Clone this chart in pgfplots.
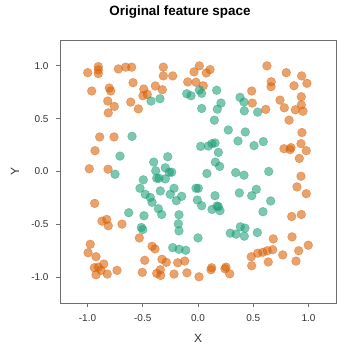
\documentclass[border=0pt]{standalone}
\usepackage{pgfplots}
\pgfplotsset{compat=1.18}
\usepackage{fontspec}
\setmainfont{Liberation Sans}
\definecolor{dorange}{HTML}{D95F02}
\definecolor{dgreen}{HTML}{1B9E77}
\definecolor{axgray}{RGB}{110,110,110}
\begin{document}
\begin{tikzpicture}[x=1bp,y=1bp]
\path[use as bounding box] (0,0) rectangle (360,360);
\begin{axis}[
  at={(60bp,57bp)}, anchor=south west,
  scale only axis, width=276bp, height=263bp,
  xmin=-1.249, xmax=1.249, ymin=-1.245, ymax=1.245,
  xtick={-1,-0.5,0,0.5,1}, ytick={-1,-0.5,0,0.5,1},
  xtick pos=bottom, ytick pos=left,
  tick align=outside, major tick length=4bp,
  axis line style={axgray, line width=0.8pt},
  every tick/.style={axgray, line width=0.8pt},
  tick label style={font=\fontsize{10}{11}\selectfont, text=black!80},
  xticklabel style={yshift=-4bp},
  yticklabel style={xshift=-4bp},
  /pgf/number format/assume math mode=true,
  /pgf/number format/fixed, /pgf/number format/fixed zerofill,
  /pgf/number format/precision=1,
  clip=false,
]
\addplot[only marks, mark=*, mark size=4.4bp,
  mark options={fill=dorange, draw=dorange, fill opacity=0.58, draw opacity=0.4, line width=0.6pt}]
coordinates {
(-0.998,0.936) (-0.902,0.993) (-0.902,0.962) (-0.902,0.927) (-0.721,0.971)
(-0.654,0.988) (-0.600,0.988) (-0.314,0.988) (-0.314,0.905) (-0.229,0.905)
(-0.962,0.762) (-0.803,0.790) (-0.790,0.762) (-0.588,0.841) (-0.491,0.781)
(-0.498,0.717) (-0.459,0.730) (-0.386,0.810) (-0.323,0.774) (-0.817,0.667)
(-0.757,0.616) (-0.812,0.555) (-0.609,0.657) (-0.540,0.593) (-0.890,0.327)
(-0.760,0.327) (-0.932,0.197) (-0.984,0.026) (-0.814,0.022) (-0.036,0.943)
(-0.093,0.848) (-0.018,0.845) (0.012,1.000) (0.109,0.965) (0.075,0.933)
(0.048,0.812) (0.624,1.000) (0.799,0.936) (0.938,0.905) (0.986,0.835)
(0.663,0.850) (0.661,0.803) (0.869,0.812) (0.486,0.762) (0.742,0.676)
(0.491,0.648) (0.613,0.588) (0.781,0.603) (0.935,0.708) (0.935,0.631)
(0.881,0.584) (0.950,0.571) (0.824,0.486) (0.941,0.369) (0.932,0.264)
(0.778,0.216) (0.842,0.226) (0.833,0.207) (0.980,0.197) (0.917,0.124)
(0.932,-0.045) (0.896,-0.146) (0.980,-0.210) (0.848,-0.426) (0.935,-0.407)
(0.851,-0.619) (0.998,-0.698) (0.911,-0.750) (0.887,-0.848) (0.681,-0.638)
(0.676,-0.740) (0.627,-0.750) (0.586,-0.765) (0.540,-0.774) (0.482,-0.807)
(0.767,-0.790) (0.636,-0.857) (0.486,-0.892) (0.124,-0.911) (0.118,-0.930)
(0.253,-0.905) (0.244,-0.921) (0.287,-0.969) (0.009,-0.997) (-0.935,-0.302)
(-0.869,-0.470) (-0.826,-0.454) (-0.812,-0.514) (-0.688,-0.498) (-0.531,-0.629)
(-0.975,-0.689) (-0.995,-0.769) (-0.923,-0.807) (-0.416,-0.708) (-0.389,-0.733)
(-0.482,-0.841) (-0.326,-0.831) (-0.287,-0.860) (-0.184,-0.864) (-0.120,-0.848)
(-0.938,-0.911) (-0.902,-0.905) (-0.853,-0.876) (-0.878,-0.936) (-0.923,-0.978)
(-0.821,-0.971) (-0.733,-0.936) (-0.504,-0.955) (-0.341,-0.930) (-0.374,-0.965)
(-0.338,-0.984) (-0.217,-0.971) (-0.100,-0.959)
};
\addplot[only marks, mark=*, mark size=4.4bp,
  mark options={fill=dgreen, draw=dgreen, fill opacity=0.58, draw opacity=0.4, line width=0.6pt}]
coordinates {
(-0.425,0.667) (-0.344,0.689) (-0.102,0.736) (-0.063,0.717) (0.012,0.771)
(0.033,0.740) (0.169,0.769) (0.208,0.648) (0.033,0.597) (0.175,0.590)
(0.380,0.702) (0.416,0.657) (0.419,0.574) (0.540,0.562) (0.148,0.486)
(0.274,0.393) (0.428,0.374) (0.362,0.289) (0.591,0.283) (0.507,0.245)
(0.024,0.238) (0.093,0.241) (0.127,0.264) (0.154,0.270) (0.184,0.181)
(0.157,0.089) (0.196,0.048) (0.081,-0.019) (0.341,-0.010) (0.416,-0.035)
(0.640,0.000) (-0.597,0.333) (-0.706,0.146) (-0.751,-0.026) (-0.401,0.089)
(-0.274,0.140) (-0.383,0.007) (-0.296,0.035) (-0.260,-0.007) (-0.238,-0.007)
(-0.495,-0.079) (-0.374,-0.064) (-0.353,-0.064) (-0.296,-0.070) (-0.525,-0.159)
(-0.477,-0.216) (-0.432,-0.245) (-0.416,-0.292) (-0.359,-0.352) (-0.329,-0.407)
(-0.341,-0.184) (-0.251,-0.216) (-0.217,-0.159) (-0.148,-0.235) (-0.196,-0.276)
(-0.627,-0.390) (-0.489,-0.419) (-0.172,-0.410) (-0.178,-0.495) (-0.172,-0.562)
(-0.513,-0.530) (-0.500,-0.550) (-0.229,-0.721) (-0.172,-0.736) (-0.111,-0.746)
(-0.018,-0.159) (0.003,-0.159) (-0.006,-0.270) (0.000,-0.629) (0.154,-0.229)
(0.374,-0.203) (0.486,-0.229) (0.528,-0.169) (0.658,-0.279) (0.033,-0.324)
(0.127,-0.359) (0.172,-0.327) (0.184,-0.333) (0.199,-0.371) (0.588,-0.381)
(0.383,-0.524) (0.425,-0.536) (0.292,-0.584) (0.344,-0.593) (0.419,-0.612)
(0.537,-0.578)
};
\end{axis}
\node[font=\fontsize{13.5}{15}\selectfont\bfseries] at (180,348) {Original feature space};
\node[font=\fontsize{12}{13}\selectfont, text=black!80] at (198,22) {X};
\node[font=\fontsize{12}{13}\selectfont, text=black!80, rotate=90] at (15,188.5) {Y};
\end{tikzpicture}
\end{document}
